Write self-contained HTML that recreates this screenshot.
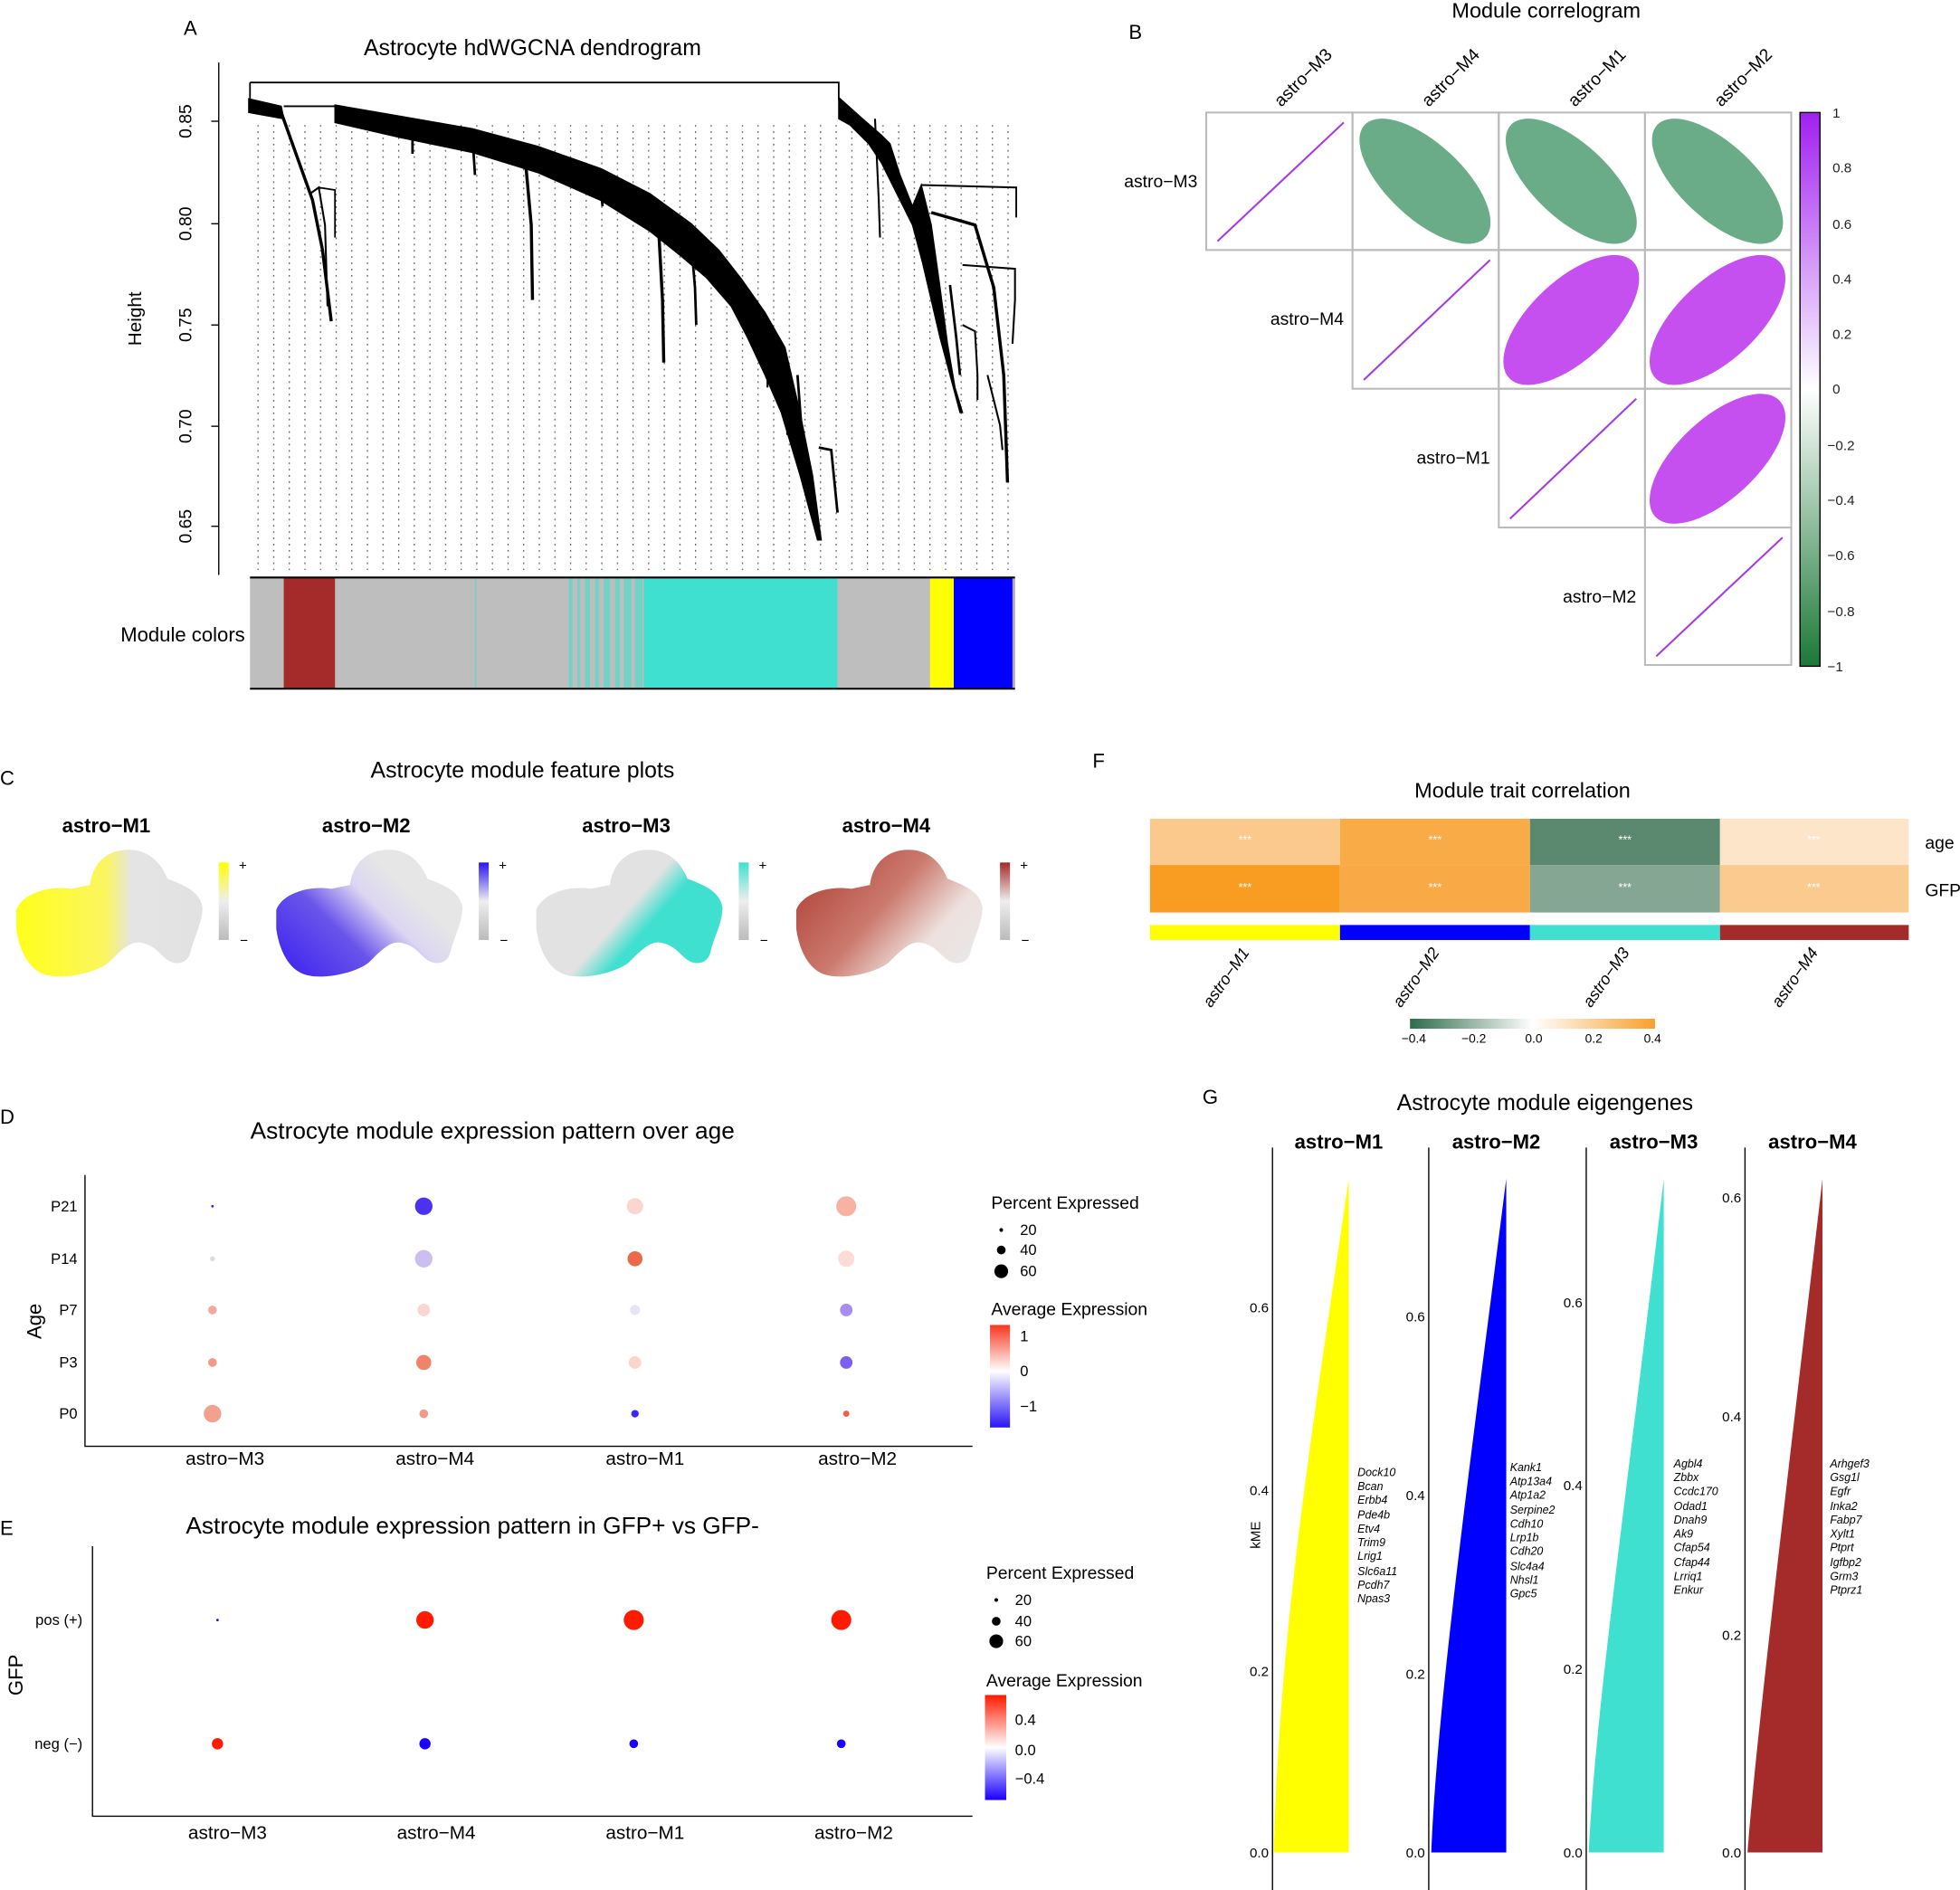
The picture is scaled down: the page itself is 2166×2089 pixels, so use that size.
<!DOCTYPE html>
<html><head><meta charset="utf-8"><style>
html,body{margin:0;padding:0;background:#fff;}
svg{display:block;font-family:"Liberation Sans",Arial,sans-serif;}
</style></head><body>
<svg width="2166" height="2089" viewBox="0 0 1568 1512" preserveAspectRatio="none" xmlns="http://www.w3.org/2000/svg">
<defs>
<pattern id="dots" x="206" y="0" width="12.5" height="5" patternUnits="userSpaceOnUse"><rect x="0" y="0" width="0.9" height="1.3" fill="#555"/></pattern>
<linearGradient id="gB" x1="0" y1="0" x2="0" y2="1"><stop offset="0" stop-color="#a020f0"/><stop offset="0.5" stop-color="#ffffff"/><stop offset="1" stop-color="#1b7837"/></linearGradient>
<linearGradient id="gF" x1="0" y1="0" x2="1" y2="0"><stop offset="0" stop-color="#2f6b4b"/><stop offset="0.5" stop-color="#ffffff"/><stop offset="1" stop-color="#f9a02c"/></linearGradient>
<linearGradient id="gD" x1="0" y1="0" x2="0" y2="1"><stop offset="0" stop-color="#f8361e"/><stop offset="0.45" stop-color="#ffffff"/><stop offset="1" stop-color="#2a14f5"/></linearGradient>
<linearGradient id="gE" x1="0" y1="0" x2="0" y2="1"><stop offset="0" stop-color="#ff1a00"/><stop offset="0.5" stop-color="#ffffff"/><stop offset="1" stop-color="#1a00ff"/></linearGradient>
<linearGradient id="cY" x1="0" y1="0" x2="0" y2="1"><stop offset="0" stop-color="#ffff00"/><stop offset="0.5" stop-color="#eeeeee"/><stop offset="1" stop-color="#bbbbbb"/></linearGradient>
<linearGradient id="cP" x1="0" y1="0" x2="0" y2="1"><stop offset="0" stop-color="#2a14f0"/><stop offset="0.5" stop-color="#eeeeee"/><stop offset="1" stop-color="#bbbbbb"/></linearGradient>
<linearGradient id="cT" x1="0" y1="0" x2="0" y2="1"><stop offset="0" stop-color="#40e0d0"/><stop offset="0.5" stop-color="#eeeeee"/><stop offset="1" stop-color="#bbbbbb"/></linearGradient>
<linearGradient id="cR" x1="0" y1="0" x2="0" y2="1"><stop offset="0" stop-color="#a52a2a"/><stop offset="0.5" stop-color="#eeeeee"/><stop offset="1" stop-color="#bbbbbb"/></linearGradient>
<linearGradient id="bY" x1="0" y1="0" x2="1" y2="0"><stop offset="0" stop-color="#ffff1a"/><stop offset="0.48" stop-color="#fbf560"/><stop offset="0.62" stop-color="#e4e4e4"/><stop offset="1" stop-color="#e2e2e2"/></linearGradient>
<linearGradient id="bP" x1="0" y1="1" x2="1" y2="0.3"><stop offset="0" stop-color="#3a1ef0"/><stop offset="0.4" stop-color="#6a55ea"/><stop offset="0.62" stop-color="#dcd6f2"/><stop offset="0.8" stop-color="#e6e6e6"/></linearGradient>
<linearGradient id="bT" x1="0" y1="0.2" x2="1" y2="0.8"><stop offset="0" stop-color="#e2e2e2"/><stop offset="0.48" stop-color="#e2e2e2"/><stop offset="0.62" stop-color="#40e0d0"/><stop offset="1" stop-color="#40e0d0"/></linearGradient>
<linearGradient id="bR" x1="0" y1="0.2" x2="1" y2="0.8"><stop offset="0" stop-color="#b0433a"/><stop offset="0.45" stop-color="#cc7a6e"/><stop offset="0.75" stop-color="#eee0dd"/><stop offset="1" stop-color="#e8e8e8"/></linearGradient>
<path id="blob" d="M1,50 C5,38 25,30 45,33 L60,30 C62,12 75,0 95,2 C110,4 118,15 122,25 C135,30 148,35 150,48 C150,60 143,72 140,85 C138,92 130,95 122,90 C115,85 112,78 100,76 C92,75 85,82 75,92 C65,100 40,106 25,102 C10,98 3,80 1,65 Z"/>
</defs>

<!-- Panel A -->
<text x="147" y="28" font-size="16">A</text>
<text x="426" y="44" font-size="18" text-anchor="middle">Astrocyte hdWGCNA dendrogram</text>
<rect x="204" y="100" width="610" height="356" fill="url(#dots)"/>
<line x1="175" y1="50" x2="175" y2="460" stroke="#000" stroke-width="1"/>
<g stroke="#000"><line x1="169" y1="97" x2="175" y2="97"/><line x1="169" y1="179" x2="175" y2="179"/><line x1="169" y1="260" x2="175" y2="260"/><line x1="169" y1="341" x2="175" y2="341"/><line x1="169" y1="421" x2="175" y2="421"/></g>
<g font-size="14" text-anchor="middle">
<text transform="translate(153,97) rotate(-90)">0.85</text>
<text transform="translate(153,179) rotate(-90)">0.80</text>
<text transform="translate(153,260) rotate(-90)">0.75</text>
<text transform="translate(153,341) rotate(-90)">0.70</text>
<text transform="translate(153,421) rotate(-90)">0.65</text>
<text transform="translate(113,255) rotate(-90)" font-size="15">Height</text>
</g>
<g fill="#000" stroke="#000">
<path d="M200,66 L671,66 L671,80" fill="none" stroke-width="1.3"/>
<path d="M200,66 L200,80" fill="none" stroke-width="1.3"/>
<polygon points="199,79 225,85 227,95 199,90"/>
<path d="M225,90 L250,160 L258,200 L265,257" fill="none" stroke-width="2.5"/>
<path d="M248,155 L255,150 L260,180 L262,245" fill="none" stroke-width="1.5"/>
<path d="M255,150 L268,152 L268,190" fill="none" stroke-width="1.3"/>
<path d="M227,85 L268,85" fill="none" stroke-width="1.3"/>
<polygon points="268,84 320,93 378,103 430,117 481,135 520,155 553,179 575,200 593,223 612,250 628,278 640,330 650,380 657,432 654,432 640,380 625,330 612,300 598,270 585,245 565,222 545,205 520,185 480,160 430,138 378,122 320,110 268,98"/>
<line x1="330" y1="104" x2="330" y2="123" stroke-width="2"/>
<line x1="378" y1="110" x2="380" y2="140" stroke-width="2"/>
<path d="M420,125 L425,180 L426,240" fill="none" stroke-width="2.5"/>
<line x1="480" y1="140" x2="482" y2="165" stroke-width="2"/>
<path d="M527,185 L530,240 L531,290" fill="none" stroke-width="2.5"/>
<path d="M553,195 L556,230 L557,260" fill="none" stroke-width="2"/>
<line x1="604" y1="253" x2="604" y2="280" stroke-width="1.5"/>
<path d="M612,260 L614,290 L614,310" fill="none" stroke-width="1.5"/>
<path d="M625,290 L630,340 L630,348" fill="none" stroke-width="2"/>
<path d="M638,300 L641,340 L641,350" fill="none" stroke-width="2"/>
<path d="M655,358 L665,360 L670,410 L670,408" fill="none" stroke-width="2"/>
<polygon points="671,78 690,95 705,108 712,115 720,140 730,165 737,148 745,180 752,230 758,275 764,310 770,330 768,330 760,300 752,270 745,240 738,210 730,180 715,150 705,130 695,115 680,100 671,95"/>
<path d="M737,148 L813,150 L813,174" fill="none" stroke-width="1.4"/>
<path d="M745,170 L780,180 L795,230 L803,300 L806,386" fill="none" stroke-width="2.5"/>
<path d="M770,212 L812,215 L812,240 L810,275" fill="none" stroke-width="1.5"/>
<path d="M760,228 L765,270 L768,300" fill="none" stroke-width="2"/>
<path d="M790,300 L800,340 L802,360" fill="none" stroke-width="1.5"/>
<path d="M700,95 L703,160 L704,190" fill="none" stroke-width="1.5"/>
<path d="M705,110 L712,120 L714,130" fill="none" stroke-width="1.3"/>
<path d="M770,260 L780,265 L782,300 L782,320" fill="none" stroke-width="1.5"/>
</g>
<rect x="200" y="462" width="612" height="89" fill="#bebebe"/>
<rect x="227" y="462" width="41" height="89" fill="#a52a2a"/>
<g fill="#40e0d0" opacity="0.6"><rect x="455" y="462" width="3" height="89"/><rect x="462" y="462" width="2" height="89"/><rect x="468" y="462" width="4" height="89"/><rect x="476" y="462" width="3" height="89"/><rect x="483" y="462" width="5" height="89"/><rect x="492" y="462" width="4" height="89"/><rect x="499" y="462" width="6" height="89"/><rect x="508" y="462" width="6" height="89"/><rect x="380" y="462" width="1" height="89"/></g>
<rect x="515" y="462" width="155" height="89" fill="#40e0d0"/>
<rect x="744" y="462" width="19" height="89" fill="#ffff00"/>
<rect x="763" y="462" width="47" height="89" fill="#0000ff"/>
<rect x="810" y="462" width="2" height="89" fill="#aab"/>
<line x1="200" y1="462" x2="812" y2="462" stroke="#000" stroke-width="1.5"/>
<line x1="200" y1="551" x2="812" y2="551" stroke="#000" stroke-width="1.5"/>
<text x="196" y="513" font-size="16" text-anchor="end">Module colors</text>

<!-- Panel B -->
<text x="903" y="31" font-size="16">B</text>
<text x="1237" y="14" font-size="17" text-anchor="middle">Module correlogram</text>
<g fill="none" stroke="#bbb" stroke-width="1.5">
<rect x="965" y="90" width="117" height="110"/><rect x="1082" y="90" width="117" height="110"/><rect x="1199" y="90" width="117" height="110"/><rect x="1316" y="90" width="117" height="110"/>
<rect x="1082" y="200" width="117" height="111"/><rect x="1199" y="200" width="117" height="111"/><rect x="1316" y="200" width="117" height="111"/>
<rect x="1199" y="311" width="117" height="111"/><rect x="1316" y="311" width="117" height="111"/>
<rect x="1316" y="422" width="117" height="110"/>
</g>
<g stroke="#a63ae6" stroke-width="1.5">
<line x1="974" y1="193" x2="1075" y2="98"/><line x1="1091" y1="304" x2="1192" y2="208"/><line x1="1208" y1="415" x2="1309" y2="319"/><line x1="1325" y1="525" x2="1426" y2="430"/>
</g>
<g fill="#6aab88">
<ellipse cx="1140" cy="145" rx="66" ry="30" transform="rotate(43 1140 145)"/>
<ellipse cx="1257" cy="145" rx="66" ry="30" transform="rotate(43 1257 145)"/>
<ellipse cx="1374" cy="145" rx="66" ry="30" transform="rotate(43 1374 145)"/>
</g>
<g fill="#c64ff0">
<ellipse cx="1257" cy="256" rx="68" ry="32" transform="rotate(-43 1257 256)"/>
<ellipse cx="1374" cy="256" rx="68" ry="32" transform="rotate(-43 1374 256)"/>
<ellipse cx="1374" cy="367" rx="68" ry="32" transform="rotate(-43 1374 367)"/>
</g>
<g font-size="14">
<text x="958" y="150" text-anchor="end">astro−M3</text>
<text x="1075" y="260" text-anchor="end">astro−M4</text>
<text x="1192" y="371" text-anchor="end">astro−M1</text>
<text x="1309" y="482" text-anchor="end">astro−M2</text>
<text transform="translate(1025,86) rotate(-45)">astro−M3</text>
<text transform="translate(1143,86) rotate(-45)">astro−M4</text>
<text transform="translate(1260,86) rotate(-45)">astro−M1</text>
<text transform="translate(1377,86) rotate(-45)">astro−M2</text>
</g>
<rect x="1440" y="90" width="16" height="443" fill="url(#gB)" stroke="#000" stroke-width="1"/>
<g font-size="11" fill="#222">
<text x="1466" y="94">1</text><text x="1466" y="138">0.8</text><text x="1466" y="183">0.6</text><text x="1466" y="227">0.4</text><text x="1466" y="271">0.2</text><text x="1466" y="315">0</text><text x="1462" y="360">−0.2</text><text x="1462" y="404">−0.4</text><text x="1462" y="448">−0.6</text><text x="1462" y="493">−0.8</text><text x="1462" y="537">−1</text>
</g>

<!-- Panel C -->
<text x="0" y="628" font-size="16">C</text>
<text x="418" y="622" font-size="18" text-anchor="middle">Astrocyte module feature plots</text>
<g font-size="16" font-weight="bold" text-anchor="middle">
<text x="85" y="666">astro−M1</text><text x="293" y="666">astro−M2</text><text x="501" y="666">astro−M3</text><text x="709" y="666">astro−M4</text>
</g>
<use href="#blob" transform="translate(12,678)" fill="url(#bY)"/>
<use href="#blob" transform="translate(220,678)" fill="url(#bP)"/>
<use href="#blob" transform="translate(428,678)" fill="url(#bT)"/>
<use href="#blob" transform="translate(636,678)" fill="url(#bR)"/>
<rect x="175" y="690" width="8" height="62" fill="url(#cY)"/>
<rect x="383" y="690" width="8" height="62" fill="url(#cP)"/>
<rect x="591" y="690" width="8" height="62" fill="url(#cT)"/>
<rect x="800" y="690" width="8" height="62" fill="url(#cR)"/>
<g font-size="11"><text x="191" y="696">+</text><text x="192" y="756">−</text><text x="399" y="696">+</text><text x="400" y="756">−</text><text x="607" y="696">+</text><text x="608" y="756">−</text><text x="816" y="696">+</text><text x="817" y="756">−</text></g>

<!-- Panel F -->
<text x="874" y="614" font-size="16">F</text>
<text x="1218" y="638" font-size="17" text-anchor="middle">Module trait correlation</text>
<rect x="920" y="655" width="152" height="37" fill="#fbc98c"/>
<rect x="1072" y="655" width="152" height="37" fill="#f9ab48"/>
<rect x="1224" y="655" width="152" height="37" fill="#5a8970"/>
<rect x="1376" y="655" width="151" height="37" fill="#fde5ca"/>
<rect x="920" y="692" width="152" height="38" fill="#f99d22"/>
<rect x="1072" y="692" width="152" height="38" fill="#f9a946"/>
<rect x="1224" y="692" width="152" height="38" fill="#85a693"/>
<rect x="1376" y="692" width="151" height="38" fill="#fbca8e"/>
<g fill="#fff" font-size="9" text-anchor="middle">
<text x="996" y="675">***</text><text x="1148" y="675">***</text><text x="1300" y="675">***</text><text x="1451" y="675">***</text>
<text x="996" y="713">***</text><text x="1148" y="713">***</text><text x="1300" y="713">***</text><text x="1451" y="713">***</text>
</g>
<text x="1540" y="679" font-size="14">age</text><text x="1540" y="717" font-size="14">GFP</text>
<rect x="920" y="740" width="152" height="12" fill="#ffff00"/>
<rect x="1072" y="740" width="152" height="12" fill="#0000ff"/>
<rect x="1224" y="740" width="152" height="12" fill="#40e0d0"/>
<rect x="1376" y="740" width="151" height="12" fill="#a52a2a"/>
<g font-size="13" font-style="italic" text-anchor="end">
<text transform="translate(1000,762) rotate(-55)">astro−M1</text>
<text transform="translate(1152,762) rotate(-55)">astro−M2</text>
<text transform="translate(1304,762) rotate(-55)">astro−M3</text>
<text transform="translate(1455,762) rotate(-55)">astro−M4</text>
</g>
<rect x="1128" y="815" width="196" height="8" fill="url(#gF)"/>
<g font-size="10" text-anchor="middle"><text x="1131" y="834">−0.4</text><text x="1179" y="834">−0.2</text><text x="1227" y="834">0.0</text><text x="1275" y="834">0.2</text><text x="1322" y="834">0.4</text></g>

<!-- Panel D -->
<text x="0" y="899" font-size="16">D</text>
<text x="394" y="911" font-size="19" text-anchor="middle">Astrocyte module expression pattern over age</text>
<path d="M68,940 L68,1157 L778,1157" fill="none" stroke="#000"/>
<g font-size="12" text-anchor="end"><text x="62" y="969">P21</text><text x="62" y="1011">P14</text><text x="62" y="1052">P7</text><text x="62" y="1094">P3</text><text x="62" y="1135">P0</text></g>
<text transform="translate(33,1057) rotate(-90)" font-size="16" text-anchor="middle">Age</text>
<g font-size="15" text-anchor="middle"><text x="180" y="1172">astro−M3</text><text x="348" y="1172">astro−M4</text><text x="516" y="1172">astro−M1</text><text x="686" y="1172">astro−M2</text></g>
<circle cx="170" cy="965" r="1" fill="#2a14f0"/><circle cx="170" cy="1007" r="2" fill="#ddd"/><circle cx="170" cy="1048" r="3.5" fill="#f4a99f"/><circle cx="170" cy="1090" r="3.5" fill="#f29a88"/><circle cx="170" cy="1131" r="7" fill="#f4a08e"/>
<circle cx="339" cy="965" r="7" fill="#4a32f0"/><circle cx="339" cy="1007" r="7" fill="#cdbef2"/><circle cx="339" cy="1048" r="5" fill="#fbd6d0"/><circle cx="339" cy="1090" r="6" fill="#ef8468"/><circle cx="339" cy="1131" r="3.5" fill="#f29a88"/>
<circle cx="508" cy="965" r="6.5" fill="#fbd6cf"/><circle cx="508" cy="1007" r="6" fill="#ec6a4c"/><circle cx="508" cy="1048" r="4" fill="#e6e4f5"/><circle cx="508" cy="1090" r="5" fill="#fbd4cc"/><circle cx="508" cy="1131" r="3" fill="#3a28f0"/>
<circle cx="677" cy="965" r="8" fill="#f7b2a4"/><circle cx="677" cy="1007" r="6.5" fill="#fbdcd6"/><circle cx="677" cy="1048" r="5" fill="#a88cf0"/><circle cx="677" cy="1090" r="5" fill="#7d60f0"/><circle cx="677" cy="1131" r="2.5" fill="#f0604a"/>
<text x="793" y="967" font-size="14">Percent Expressed</text>
<circle cx="801" cy="984" r="1.5"/><circle cx="801" cy="1000" r="3.5"/><circle cx="801" cy="1017" r="5.5"/>
<g font-size="12"><text x="816" y="988">20</text><text x="816" y="1004">40</text><text x="816" y="1021">60</text></g>
<text x="793" y="1052" font-size="14">Average Expression</text>
<rect x="792" y="1060" width="16" height="82" fill="url(#gD)"/>
<g font-size="12"><text x="816" y="1073">1</text><text x="816" y="1101">0</text><text x="816" y="1129">−1</text></g>

<!-- Panel E -->
<text x="0" y="1228" font-size="16">E</text>
<text x="378" y="1227" font-size="19" text-anchor="middle">Astrocyte module expression pattern in GFP+ vs GFP-</text>
<path d="M74,1237 L74,1453 L778,1453" fill="none" stroke="#000"/>
<g font-size="12" text-anchor="end"><text x="66" y="1300">pos (+)</text><text x="66" y="1399">neg (−)</text></g>
<text transform="translate(18,1340) rotate(-90)" font-size="16" text-anchor="middle">GFP</text>
<g font-size="15" text-anchor="middle"><text x="182" y="1471">astro−M3</text><text x="349" y="1471">astro−M4</text><text x="516" y="1471">astro−M1</text><text x="683" y="1471">astro−M2</text></g>
<circle cx="174" cy="1296" r="1" fill="#1a00ff"/><circle cx="340" cy="1296" r="7" fill="#ff1a00"/><circle cx="507" cy="1296" r="8" fill="#ff1a00"/><circle cx="673" cy="1296" r="8" fill="#ff1a00"/>
<circle cx="174" cy="1395" r="4.5" fill="#ff1a00"/><circle cx="340" cy="1395" r="4.5" fill="#1a00ff"/><circle cx="507" cy="1395" r="3.5" fill="#1a00ff"/><circle cx="673" cy="1395" r="3.5" fill="#1a00ff"/>
<text x="789" y="1263" font-size="14">Percent Expressed</text>
<circle cx="797" cy="1280" r="1.5"/><circle cx="797" cy="1297" r="3.5"/><circle cx="797" cy="1313" r="5.5"/>
<g font-size="12"><text x="812" y="1284">20</text><text x="812" y="1301">40</text><text x="812" y="1317">60</text></g>
<text x="789" y="1349" font-size="14">Average Expression</text>
<rect x="788" y="1356" width="17" height="84" fill="url(#gE)"/>
<g font-size="12"><text x="812" y="1380">0.4</text><text x="812" y="1404">0.0</text><text x="812" y="1427">−0.4</text></g>

<!-- Panel G -->
<text x="962" y="883" font-size="16">G</text>
<text x="1236" y="888" font-size="18" text-anchor="middle">Astrocyte module eigengenes</text>
<g font-size="16" font-weight="bold" text-anchor="middle">
<text x="1071" y="919">astro−M1</text><text x="1197" y="919">astro−M2</text><text x="1323" y="919">astro−M3</text><text x="1450" y="919">astro−M4</text>
</g>
<g stroke="#000"><line x1="1018" y1="918" x2="1018" y2="1512"/><line x1="1143" y1="918" x2="1143" y2="1512"/><line x1="1269" y1="918" x2="1269" y2="1512"/><line x1="1396" y1="918" x2="1396" y2="1512"/></g>
<path d="M1019,1482 C1024,1300 1049,1150 1079,943 L1079,1482 Z" fill="#ffff00"/>
<path d="M1145,1482 C1150,1360 1175,1180 1205,943 L1205,1482 Z" fill="#0000ff"/>
<path d="M1271,1482 C1276,1370 1301,1200 1331,943 L1331,1482 Z" fill="#40e0d0"/>
<path d="M1398,1482 C1405,1390 1428,1200 1458,943 L1458,1482 Z" fill="#a52a2a"/>
<g font-size="11" text-anchor="end">
<text x="1015" y="1050">0.6</text><text x="1015" y="1196">0.4</text><text x="1015" y="1341">0.2</text><text x="1015" y="1486">0.0</text>
<text x="1140" y="1057">0.6</text><text x="1140" y="1200">0.4</text><text x="1140" y="1343">0.2</text><text x="1140" y="1486">0.0</text>
<text x="1266" y="1046">0.6</text><text x="1266" y="1192">0.4</text><text x="1266" y="1339">0.2</text><text x="1266" y="1486">0.0</text>
<text x="1393" y="962">0.6</text><text x="1393" y="1137">0.4</text><text x="1393" y="1312">0.2</text><text x="1393" y="1486">0.0</text>
</g>
<text transform="translate(1008,1228) rotate(-90)" font-size="11" text-anchor="middle">kME</text>
<g font-size="9" font-style="italic">
<text x="1086" y="1181">Dock10</text><text x="1086" y="1192">Bcan</text><text x="1086" y="1203">Erbb4</text><text x="1086" y="1215">Pde4b</text><text x="1086" y="1226">Etv4</text><text x="1086" y="1237">Trim9</text><text x="1086" y="1248">Lrig1</text><text x="1086" y="1260">Slc6a11</text><text x="1086" y="1271">Pcdh7</text><text x="1086" y="1282">Npas3</text>
<text x="1208" y="1177">Kank1</text><text x="1208" y="1188">Atp13a4</text><text x="1208" y="1199">Atp1a2</text><text x="1208" y="1211">Serpine2</text><text x="1208" y="1222">Cdh10</text><text x="1208" y="1233">Lrp1b</text><text x="1208" y="1244">Cdh20</text><text x="1208" y="1256">Slc4a4</text><text x="1208" y="1267">Nhsl1</text><text x="1208" y="1278">Gpc5</text>
<text x="1339" y="1174">Agbl4</text><text x="1339" y="1185">Zbbx</text><text x="1339" y="1196">Ccdc170</text><text x="1339" y="1208">Odad1</text><text x="1339" y="1219">Dnah9</text><text x="1339" y="1230">Ak9</text><text x="1339" y="1241">Cfap54</text><text x="1339" y="1253">Cfap44</text><text x="1339" y="1264">Lrriq1</text><text x="1339" y="1275">Enkur</text>
<text x="1464" y="1174">Arhgef3</text><text x="1464" y="1185">Gsg1l</text><text x="1464" y="1196">Egfr</text><text x="1464" y="1208">Inka2</text><text x="1464" y="1219">Fabp7</text><text x="1464" y="1230">Xylt1</text><text x="1464" y="1241">Ptprt</text><text x="1464" y="1253">Igfbp2</text><text x="1464" y="1264">Grm3</text><text x="1464" y="1275">Ptprz1</text>
</g>
</svg>
</body></html>
